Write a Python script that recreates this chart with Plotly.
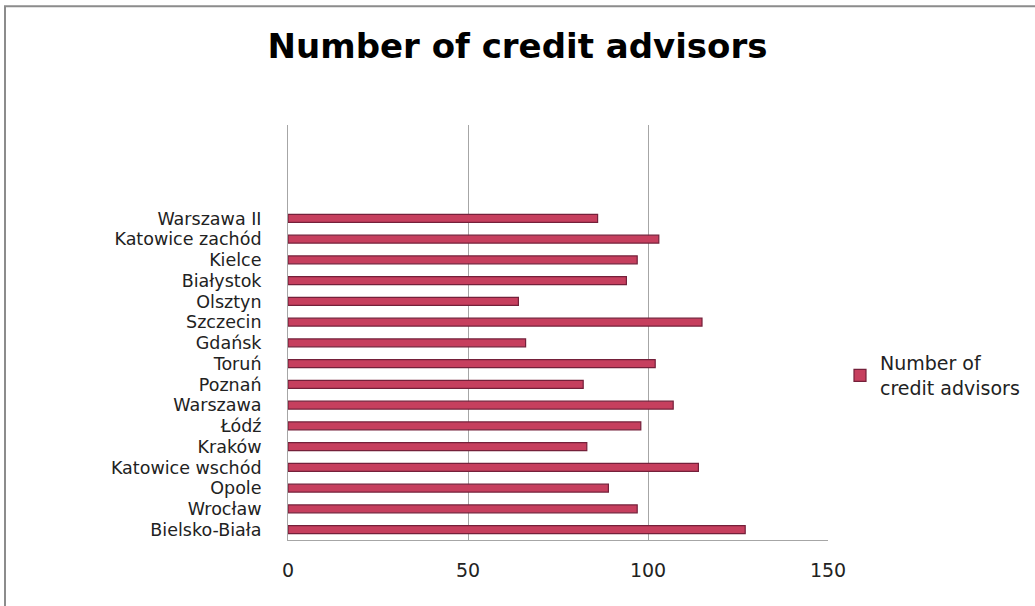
import plotly.graph_objects as go

# Branches, listed bottom to top as they appear on the category axis
branches = [
    "Bielsko-Biała", "Wrocław", "Opole", "Katowice wschód", "Kraków",
    "Łódź", "Warszawa", "Poznań", "Toruń", "Gdańsk", "Szczecin",
    "Olsztyn", "Białystok", "Kielce", "Katowice zachód", "Warszawa II",
]
advisors = [127, 97, 89, 114, 83, 98, 107, 82, 102, 66, 115, 64, 94, 97, 103, 86]

series_name = "Number of<br>credit advisors"
x_ticks = [0, 50, 100, 150]

W, H = 1035, 606
L, R, T, B = 288, 207, 125, 65.5
plot_w = W - L - R
plot_h = H - T - B


def px_x(p):
    return (p - L) / plot_w


def px_y(p):
    return (H - B - p) / plot_h


font_family = "DejaVu Sans, Verdana, sans-serif"

fig = go.Figure()
fig.add_trace(go.Bar(
    y=list(range(len(branches))),
    x=advisors,
    orientation="h",
    width=0.38,
    name=series_name,
    marker=dict(color="#C63F5E", line=dict(color="#74203A", width=1.2)),
    showlegend=True,
))

fig.update_layout(
    width=W, height=H,
    margin=dict(l=L, r=R, t=T, b=B, pad=0, autoexpand=False),
    paper_bgcolor="white",
    plot_bgcolor="white",
    font=dict(family=font_family, color="#222222", size=18),
    title=dict(
        text="<b>Number of credit advisors</b>",
        x=0.5, xanchor="center", xref="container",
        y=1 - 46 / H, yanchor="middle", yref="container",
        font=dict(size=34, color="#000000", family=font_family),
    ),
    xaxis=dict(
        range=[0, 150],
        tickvals=x_ticks,
        ticktext=[str(v) for v in x_ticks],
        showgrid=True, gridcolor="#A6A6A6", gridwidth=1,
        showline=True, linecolor="#A6A6A6", linewidth=1,
        zeroline=False,
        ticks="", ticklabelstandoff=13,
        tickfont=dict(size=19, color="#222222"),
        fixedrange=True,
    ),
    yaxis=dict(
        range=[-0.5, 19.5],
        tickvals=list(range(len(branches))),
        ticktext=branches,
        showgrid=False,
        showline=True, linecolor="#A6A6A6", linewidth=1,
        zeroline=False,
        ticks="", ticklabelstandoff=22,
        tickfont=dict(size=17.5, color="#222222"),
        fixedrange=True,
    ),
    legend=dict(
        x=px_x(840), xanchor="left",
        y=px_y(376), yanchor="middle",
        font=dict(size=19, color="#222222"),
        bgcolor="rgba(0,0,0,0)",
        itemwidth=30,
    ),
    shapes=[
        dict(
            type="rect", xref="paper", yref="paper",
            x0=px_x(5), x1=px_x(1100), y0=px_y(700), y1=px_y(6),
            line=dict(color="#8C8C8C", width=2),
            fillcolor="rgba(0,0,0,0)", layer="below",
        ),
    ],
)

fig.write_html("out.html")
